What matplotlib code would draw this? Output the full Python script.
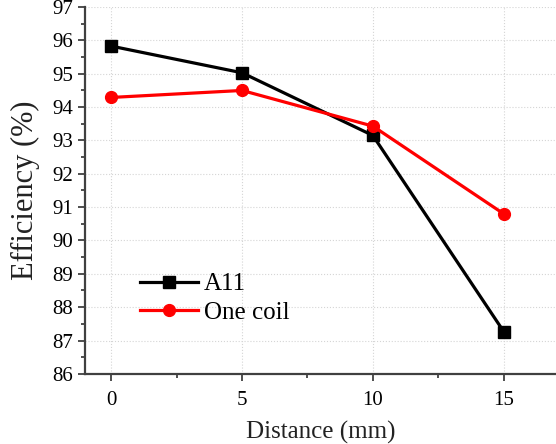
import matplotlib.pyplot as plt
from matplotlib.ticker import MultipleLocator

plt.rcParams['font.family'] = ['Liberation Serif', 'DejaVu Serif']

distance = [0, 5, 10, 15]
a11 = [95.83, 95.03, 93.15, 87.27]
one_coil = [94.29, 94.5, 93.43, 90.8]

fig = plt.figure(figsize=(5.56, 4.44), dpi=100)
ax = fig.add_axes([0.153, 0.158, 0.847, 0.826])

ax.plot(distance, a11, color='black', marker='s', markersize=8, linewidth=2.3, label='A11')
ax.plot(distance, one_coil, color='red', marker='o', markersize=8.5, linewidth=2.3, label='One coil')

ax.set_xlim(-1, 17)
ax.set_ylim(86, 97)
ax.set_xticks(distance)
ax.xaxis.set_minor_locator(MultipleLocator(2.5))
ax.yaxis.set_major_locator(MultipleLocator(1))
ax.yaxis.set_minor_locator(MultipleLocator(0.5))
ax.tick_params(which='both', direction='out', labelsize=15, color='#404040', width=1.3)
ax.tick_params(which='major', length=5)
ax.tick_params(which='minor', length=3)
ax.tick_params(axis='x', pad=7)
ax.grid(True, which='major', linestyle=':', color='#d5d5d5', linewidth=0.8)

for s in ['top', 'right']:
    ax.spines[s].set_visible(False)
for s in ['left', 'bottom']:
    ax.spines[s].set_linewidth(1.6)
    ax.spines[s].set_color('#404040')

ax.set_xlabel('Distance (mm)', fontsize=18, labelpad=8, color='#222222')
ax.set_ylabel('Efficiency (%)', fontsize=22, labelpad=9, color='#222222')

ax.legend(loc='center left', bbox_to_anchor=(0.117, 0.2055), frameon=False, fontsize=18,
          handlelength=2.3, handletextpad=0.25, labelspacing=0.25,
          borderpad=0, borderaxespad=0)

fig.savefig('out.png', dpi=100)
